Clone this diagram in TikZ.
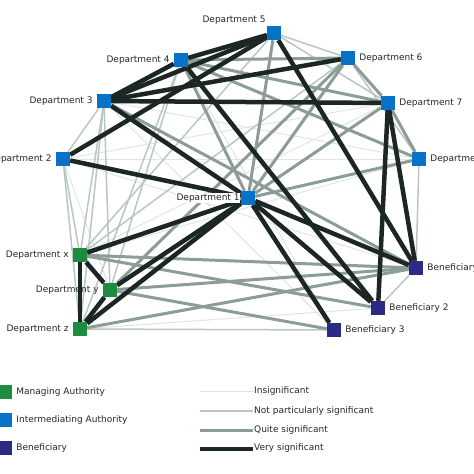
\documentclass[tikz,border=0pt]{standalone}
\usepackage{fontspec}
\setmainfont{DejaVu Sans}
\usepackage{xcolor}
\usepackage{tikz}
\usetikzlibrary{positioning,backgrounds}

\definecolor{mgreen}{RGB}{30,140,62}
\definecolor{iblue}{RGB}{8,114,200}
\definecolor{bnavy}{RGB}{44,42,132}
\definecolor{tievery}{RGB}{28,38,36}
\definecolor{tiequite}{RGB}{140,156,150}
\definecolor{tienot}{RGB}{186,198,194}
\definecolor{tieinsig}{RGB}{224,229,227}

\begin{document}
\begin{tikzpicture}[
      x=1pt, y=-1pt,
      font=\fontsize{9}{10}\selectfont,
      actor/.style={minimum size=14pt, inner sep=0pt},
      managing/.style={actor, fill=mgreen},
      interm/.style={actor, fill=iblue},
      benef/.style={actor, fill=bnavy},
      lbl/.style={inner sep=1pt, text=black!85},
      insig/.style={draw=tieinsig, line width=1pt},
      notpart/.style={draw=tienot, line width=1.5pt},
      quite/.style={draw=tiequite, line width=3pt},
      very/.style={draw=tievery, line width=4.5pt},
      label distance=3pt,
    ]
    \useasboundingbox (0,0) rectangle (474,474);

    % --- intermediating authorities ---------------------------------------
    \node[interm, label={[lbl, label distance=0pt]above left:Department 5}]
          (d5) at (274, 33) {};
    \node[interm, label={[lbl]left:Department 4}]  (d4) at (181, 60) {};
    \node[interm, label={[lbl]right:Department 6}] (d6) at (348, 58) {};
    \node[interm, label={[lbl]left:Department 3}]  (d3) at (104,101) {};
    \node[interm, label={[lbl]right:Department 7}] (d7) at (388,103) {};
    \node[interm, label={[lbl]left:Department 2}]  (d2) at ( 63,159) {};
    \node[interm, label={[lbl]right:Department 8}] (d8) at (419,159) {};
    \node[interm, label={[lbl, fill=white, inner sep=0.5pt,
          label distance=0.5pt]left:Department 1}] (d1) at (248,198) {};

    % --- managing authority ----------------------------------------------
    \node[managing, label={[lbl]left:Department x}] (dx) at ( 80,255) {};
    \node[managing, label={[lbl]left:Department y}] (dy) at (110,290) {};
    \node[managing, label={[lbl]left:Department z}] (dz) at ( 80,329) {};

    % --- beneficiaries ----------------------------------------------------
    \node[benef, label={[lbl]right:Beneficiary 1}] (b1) at (416,268) {};
    \node[benef, label={[lbl]right:Beneficiary 2}] (b2) at (378,308) {};
    \node[benef, label={[lbl]right:Beneficiary 3}] (b3) at (334,330) {};

    % --- ties, weakest first so the strong ones sit on top ----------------
    \begin{scope}[on background layer]
      \draw[insig] (d2) -- (d7);  \draw[insig] (d2) -- (d8);
      \draw[insig] (d3) -- (d8);  \draw[insig] (dx) -- (d8);
      \draw[insig] (d2) -- (dy);  \draw[insig] (d3) -- (b3);
      \draw[insig] (d2) -- (b1);  \draw[insig] (dz) -- (b2);
      \draw[insig] (d4) -- (b3);  \draw[insig] (d7) -- (dx);

      \draw[notpart] (d2) -- (d3);  \draw[notpart] (d2) -- (dx);
      \draw[notpart] (d2) -- (dz);  \draw[notpart] (d3) -- (dx);
      \draw[notpart] (d3) -- (dy);  \draw[notpart] (d3) -- (dz);
      \draw[notpart] (d4) -- (dy);  \draw[notpart] (d4) -- (dz);
      \draw[notpart] (d5) -- (d6);  \draw[notpart] (d5) -- (d7);
      \draw[notpart] (d6) -- (d8);  \draw[notpart] (d8) -- (b1);
      \draw[notpart] (b1) -- (b2);  \draw[notpart] (dz) -- (b3);
      \draw[notpart] (d6) -- (dx);  \draw[notpart] (d5) -- (dx);

      \draw[quite] (d4) -- (d6);  \draw[quite] (d4) -- (d7);
      \draw[quite] (d4) -- (d8);  \draw[quite] (d5) -- (d1);
      \draw[quite] (d6) -- (d7);  \draw[quite] (d7) -- (d8);
      \draw[quite] (d8) -- (d1);  \draw[quite] (d7) -- (d1);
      \draw[quite] (d6) -- (d1);  \draw[quite] (d4) -- (d1);
      \draw[quite] (d3) -- (b1);  \draw[quite] (d6) -- (dy);
      \draw[quite] (dx) -- (b1);  \draw[quite] (dy) -- (b1);
      \draw[quite] (dz) -- (b1);  \draw[quite] (dy) -- (b3);
      \draw[quite] (dx) -- (b2);

      \draw[very] (d3) -- (d4);  \draw[very] (d3) -- (d5);
      \draw[very] (d4) -- (d5);  \draw[very] (d3) -- (d6);
      \draw[very] (d3) -- (d7);  \draw[very] (d2) -- (d5);
      \draw[very] (d2) -- (d1);  \draw[very] (d3) -- (d1);
      \draw[very] (d5) -- (b1);  \draw[very] (d7) -- (b1);
      \draw[very] (d7) -- (b2);  \draw[very] (d4) -- (b2);
      \draw[very] (d1) -- (dx);  \draw[very] (d1) -- (dy);
      \draw[very] (d1) -- (dz);  \draw[very] (d1) -- (b1);
      \draw[very] (d1) -- (b2);  \draw[very] (d1) -- (b3);
      \draw[very] (dx) -- (dy);  \draw[very] (dx) -- (dz);
      \draw[very] (dy) -- (dz);
    \end{scope}

    % --- legend: actor kinds ----------------------------------------------
    \node[managing, label={[lbl]right:Managing Authority}]
          (keyman) at (5,392) {};
    \node[interm, label={[lbl]right:Intermediating Authority}]
          (keyint) at (5,420) {};
    \node[benef, label={[lbl]right:Beneficiary}]
          (keyben) at (5,448) {};

    % --- legend: tie strength ---------------------------------------------
    \coordinate (kia) at (200,391);
    \node[lbl, anchor=west] (kib) at (253,391) {Insignificant};
    \coordinate (kna) at (200,411);
    \node[lbl, anchor=west] (knb) at (253,411) {Not particularly significant};
    \coordinate (kqa) at (200,430);
    \node[lbl, anchor=west] (kqb) at (253,430) {Quite significant};
    \coordinate (kva) at (200,449);
    \node[lbl, anchor=west] (kvb) at (253,448) {Very significant};
    \draw[insig]   (kia) -- (kib.west);
    \draw[notpart] (kna) -- (knb.west);
    \draw[quite]   (kqa) -- (kqb.west);
    \draw[very]    (kva) -- (kvb.west |- kva);
  \end{tikzpicture}
\end{document}
